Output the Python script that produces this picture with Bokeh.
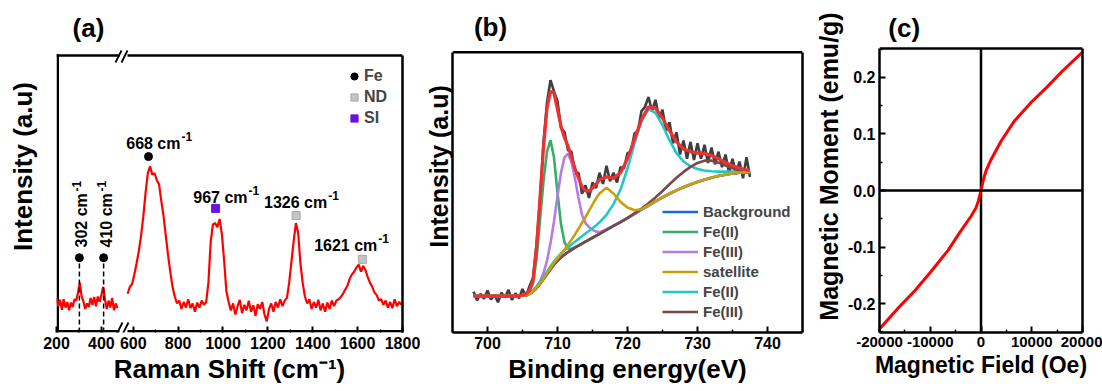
from bokeh.plotting import figure
from bokeh.layouts import row
from bokeh.models import Range1d, FixedTicker, LinearAxis, Label, Legend, LegendItem, Span
from bokeh.embed import file_html
from bokeh.resources import INLINE

FONT = "Liberation Sans"

# ---------------- (a) Raman spectrum ----------------
raman_left_x = [200 + 8 * i for i in range(35)]
raman_left_y = [12.5, 9.5, 11.8, 8.2, 12.0, 9.0, 11.0, 8.0, 10.8, 9.2,
                12.0, 11.5, 14.5, 18.0, 13.0, 11.2, 8.5, 10.5, 9.2, 12.5,
                10.0, 12.8, 9.5, 13.0, 11.0, 13.5, 16.5, 12.0, 8.5, 11.5,
                9.0, 12.5, 8.0, 10.5, 8.8]
raman_right_x = [575 + 10 * i for i in range(123)]
raman_right_y = [14.0, 16.5, 17.5, 21.0, 25.0, 29.5, 35.0, 42.0, 50.5, 57.5,
                 60.0, 57.0, 57.5, 55.0, 53.5, 47.5, 42.0, 35.0, 28.0, 22.0,
                 16.5, 13.0, 10.5, 11.5, 8.5, 11.0, 9.0, 12.0, 8.8, 10.5,
                 7.5, 10.8, 9.0, 11.5, 10.0, 11.0, 18.0, 32.5, 39.0, 39.5,
                 38.0, 41.0, 35.5, 26.0, 15.0, 11.0, 8.0, 10.5, 6.5, 9.5,
                 11.8, 7.0, 10.0, 8.0, 11.5, 7.5, 9.8, 6.0, 10.2, 8.5,
                 11.0, 6.5, 4.0, 8.5, 10.5, 7.5, 11.0, 9.0, 12.0, 9.5,
                 11.5, 12.5, 18.0, 25.5, 33.0, 39.5, 36.0, 25.0, 18.0, 13.0,
                 10.5, 12.0, 8.5, 11.0, 9.0, 11.8, 8.0, 10.5, 7.5, 10.8,
                 8.5, 11.5, 9.5, 11.5, 12.0, 12.8, 14.0, 15.5, 17.0, 19.5,
                 21.0, 22.0, 23.5, 24.5, 22.0, 24.0, 22.5, 20.0, 18.0, 16.5,
                 14.5, 13.5, 11.5, 12.0, 10.0, 11.5, 9.0, 11.0, 8.8, 12.0,
                 9.5, 11.0, 10.0]
peak_x = [302, 410, 668, 967, 1326, 1621]
peak_txt = ["302 cm", "410 cm", "668 cm", "967 cm", "1326 cm", "1621 cm"]
peak_kind = ["Fe", "Fe", "Fe", "SI", "ND", "ND"]
peak_mark_y = [27, 27, 63.5, 44.8, 42.2, 26.4]
raman_ticks = [200, 400, 600, 800, 1000, 1200, 1400, 1600, 1800]
raman_minor = [300, 700, 900, 1100, 1300, 1500, 1700]
BRK_LO, BRK_HI = 500, 558
RAMAN_YMAX = 100

# ---------------- (b) XPS Fe 2p ----------------
xps_x = [698, 700, 702, 704, 705, 705.5, 706, 706.5, 707, 707.5, 708, 708.5, 709,
         709.5, 710, 710.5, 711, 711.5, 712, 712.5, 713, 713.5, 714, 714.5, 715,
         715.5, 716, 717, 718, 719, 720, 721, 722, 723, 724, 725, 726, 727, 728,
         729, 730, 731, 732, 733, 734, 735, 736, 737, 737.5]
xps_bg = [13, 13, 13, 13, 13.1, 13.3, 13.8, 14.6, 15.8, 17.3, 19.0, 20.8, 22.6,
          24.2, 25.6, 26.8, 27.8, 28.7, 29.5, 30.3, 31.0, 31.7, 32.4, 33.1, 33.8,
          34.5, 35.2, 36.6, 38.0, 39.4, 40.8, 42.3, 43.8, 45.3, 46.8, 48.2, 49.5,
          50.7, 51.8, 52.8, 53.7, 54.5, 55.2, 55.8, 56.3, 56.7, 57.0, 57.2, 57.3]
xps_fe2_a = [13, 13, 13, 13, 13.2, 13.6, 14.8, 17.5, 26.0, 40.0, 54.0, 64.5, 68.6,
             62.4, 49.9, 38.6, 32.2, 30.0, 29.8, 30.4, 31.0, 31.7, 32.4, 33.1, 33.8,
             34.5, 35.2, 36.6, 38.0, 39.4, 40.8, 42.3, 43.8, 45.3, 46.8, 48.2, 49.5,
             50.7, 51.8, 52.8, 53.7, 54.5, 55.2, 55.8, 56.3, 56.7, 57.0, 57.2, 57.3]
xps_fe3_a = [13, 13, 13, 13, 13.1, 13.3, 13.8, 14.7, 16.1, 18.2, 21.2, 25.6, 31.8,
             39.7, 48.7, 57.0, 62.5, 63.8, 60.8, 54.9, 48.0, 42.0, 39.0, 37.6, 36.6,
             36.0, 35.8, 36.9, 38.1, 39.4, 40.8, 42.3, 43.8, 45.3, 46.8, 48.2, 49.5,
             50.7, 51.8, 52.8, 53.7, 54.5, 55.2, 55.8, 56.3, 56.7, 57.0, 57.2, 57.3]
xps_sat = [13, 13, 13, 13, 13.1, 13.3, 13.8, 14.6, 15.9, 17.4, 19.2, 21.1, 23.0,
           24.8, 26.4, 28.0, 29.6, 31.3, 33.1, 35.0, 37.0, 39.1, 41.2, 43.4, 45.6,
           47.8, 49.6, 51.6, 49.6, 46.6, 44.6, 43.6, 44.0, 45.4, 46.9, 48.3, 49.6,
           50.8, 51.9, 52.9, 53.8, 54.6, 55.3, 55.9, 56.4, 56.8, 57.1, 57.3, 57.4]
xps_fe2_b = [13, 13, 13, 13, 13.2, 13.5, 14.1, 15.0, 16.4, 18.0, 19.8, 21.7, 23.6,
             25.3, 26.8, 28.1, 29.3, 30.4, 31.4, 32.4, 33.4, 34.3, 35.3, 36.2, 37.2,
             38.2, 39.3, 42.0, 45.8, 51.0, 58.5, 67.5, 75.5, 79.6, 78.4, 74.0, 68.5,
             64.0, 61.0, 59.3, 58.3, 57.8, 57.5, 57.4, 57.4, 57.4, 57.4, 57.4, 57.4]
xps_fe3_b = [13, 13, 13, 13, 13.1, 13.3, 13.8, 14.6, 15.8, 17.3, 19.0, 20.8, 22.6,
             24.2, 25.6, 26.8, 27.8, 28.7, 29.5, 30.3, 31.0, 31.7, 32.4, 33.1, 33.8,
             34.5, 35.2, 36.6, 38.0, 39.4, 40.9, 42.5, 44.2, 46.1, 48.2, 50.5, 52.9,
             55.2, 57.3, 59.1, 60.5, 61.3, 61.3, 60.6, 59.6, 58.6, 57.9, 57.5, 57.4]
xps_env = [13, 13, 13, 13, 13.3, 13.8, 15.0, 18.5, 30.0, 48.0, 66.0, 80.0, 86.0,
           85.5, 79.5, 73.5, 69.5, 66.5, 62.5, 58.5, 55.0, 52.0, 50.5, 50.5, 51.5,
           53.0, 54.5, 55.5, 55.0, 57.0, 62.0, 69.0, 76.0, 80.5, 80.0, 76.5, 72.0,
           68.0, 65.5, 64.5, 64.0, 63.8, 63.2, 62.0, 60.7, 59.5, 58.7, 58.0, 57.8]
xps_raw_x = [698 + 0.5 * i for i in range(80)]
xps_raw_y = [14.5, 11.5, 13.8, 12.0, 15.0, 11.8, 13.5, 10.8, 14.2, 12.5, 15.2, 11.6,
             14.0, 12.2, 15.5, 12.8,
             16.5, 19.5, 31.5, 47.0, 68.0, 82.0, 90.0, 86.0, 82.5, 73.0, 71.5, 65.0,
             64.5, 56.5, 57.0, 49.5, 52.5, 48.0, 53.5, 51.5,
             57.0, 53.0, 59.5, 54.0, 57.0, 53.5, 59.0, 58.5, 64.0, 64.5, 71.0, 72.0,
             79.0, 80.5, 84.0, 79.0, 83.0, 76.5, 79.5, 72.0,
             75.0, 67.5, 71.5, 63.5, 68.5, 62.0, 68.0, 61.5, 67.5, 62.0, 67.0, 60.5,
             66.0, 60.0, 64.5, 59.0, 63.5, 57.0, 62.0, 56.5,
             61.0, 55.0, 62.5, 55.5]
xps_ticks = [700, 710, 720, 730, 740]
xps_minor = [695, 705, 715, 725, 735, 745]
XPS_YMAX = 100

# ---------------- (c) M-H loop ----------------
mh_h = [-20000, -16000, -13000, -10000, -6500, -4000, -2000, -1000, -500, -200, 0,
        200, 500, 1000, 2000, 4000, 6500, 10000, 13000, 16000, 20000]
mh_m = [-0.245, -0.205, -0.177, -0.145, -0.106, -0.072, -0.046, -0.031, -0.018, -0.007, 0.0,
        0.008, 0.020, 0.035, 0.055, 0.088, 0.122, 0.157, 0.183, 0.211, 0.245]
mh_xticks = [-20000, -10000, 0, 10000, 20000]
mh_yticks = [-0.2, -0.1, 0.0, 0.1, 0.2]
MH_LIM = 0.2513


def brk(v):
    return v if v <= BRK_LO else v - (BRK_HI - BRK_LO)


def new_fig(w, bl, br, bb, xr, yr):
    # the frame reaches the top of the canvas; the visible box top is drawn inside it
    p = figure(width=w, height=391, x_range=xr, y_range=yr, output_backend="svg",
               toolbar_location=None, min_border_left=bl, min_border_right=br,
               min_border_top=0, min_border_bottom=bb, title=None)
    p.grid.visible = False
    p.outline_line_color = None
    p.background_fill_color = "white"
    p.border_fill_color = "white"
    return p


def style_axis(ax, ticks=None, minor=None, overrides=None, show_labels=True,
               label=None, label_standoff=4, line=True, label_size=26, tick_size=16):
    ax.axis_line_width = 2.5
    ax.axis_line_color = "black" if line else None
    ax.ticker = FixedTicker(ticks=ticks or [], minor_ticks=minor or [])
    ax.major_tick_in = 6
    ax.major_tick_out = 0
    ax.minor_tick_in = 3
    ax.minor_tick_out = 0
    ax.major_tick_line_width = 2
    ax.minor_tick_line_width = 1.5
    ax.major_tick_line_color = "black"
    ax.minor_tick_line_color = "black"
    ax.major_label_text_font = FONT
    ax.major_label_text_font_style = "bold"
    ax.major_label_text_font_size = f"{tick_size}px" if show_labels else "0px"
    ax.major_label_text_color = "black"
    ax.major_label_standoff = 4 if show_labels else 0
    if overrides:
        ax.major_label_overrides = overrides
    if label:
        ax.axis_label = label
        ax.axis_label_text_font = FONT
        ax.axis_label_text_font_size = f"{label_size}px"
        ax.axis_label_text_font_style = "bold"
        ax.axis_label_text_color = "black"
        ax.axis_label_standoff = label_standoff


def lab(p, x, y, text, size, angle=0, align="center", baseline="middle", xo=0):
    p.add_layout(Label(x=x, y=y, text=text, text_font=FONT, text_font_size=f"{size}px",
                       text_font_style="bold", text_color="black", text_align=align,
                       text_baseline=baseline, angle=angle, angle_units="deg",
                       x_offset=xo, level="overlay"))


# ================= Panel (a) =================
ax_ = lambda px: 200 + (px - 56) * (brk(1800) - 200) / 346.0
ay_ = lambda py: (332 - py) * RAMAN_YMAX / 277.0

pa = new_fig(420, 56, 18, 59, Range1d(200, brk(1800)), Range1d(0, ay_(0)))
style_axis(pa.xaxis[0], [brk(t) for t in raman_ticks], [brk(t) for t in raman_minor],
           {brk(t): str(t) for t in raman_ticks}, label="Raman Shift (cm\u207b\u00b9)",
           label_standoff=2, line=False)
# left axis: line drawn as a glyph below; bounds only used to centre its title like the reference
style_axis(pa.yaxis[0], show_labels=False, label="Intensity (a.u)", label_standoff=19, line=False)
pa.yaxis[0].bounds = (2 * ay_(176) - RAMAN_YMAX, RAMAN_YMAX)
ra = LinearAxis(bounds=(0, RAMAN_YMAX))
style_axis(ra, show_labels=False)
pa.add_layout(ra, "right")

# box lines (top/bottom broken at the axis break, left edge) and "//" marks
gap_l, gap_r = ax_(119), ax_(127)
for yl in (ay_(330.75), RAMAN_YMAX):
    pa.segment(x0=[200, gap_r], y0=[yl, yl], x1=[gap_l, brk(1800)], y1=[yl, yl],
               line_color="black", line_width=2.5)
pa.segment(x0=[ax_(57.25)], y0=[0], x1=[ax_(57.25)], y1=[ay_(53.75)],
           line_color="black", line_width=2.5)
pa.segment(x0=[ax_(116), ax_(122), ax_(115), ax_(121)],
           y0=[ay_(334), ay_(334), ay_(62), ay_(62)],
           x1=[ax_(122), ax_(128), ax_(121), ax_(127)],
           y1=[ay_(322), ay_(322), ay_(50), ay_(50)],
           line_color="black", line_width=1.8)

pa.line([brk(v) for v in raman_left_x], raman_left_y, line_color="#ff0000", line_width=2.2)
pa.line([brk(v) for v in raman_right_x], raman_right_y, line_color="#ff0000", line_width=2.2)

for i, k in enumerate(peak_kind):
    if peak_x[i] < BRK_LO:
        pa.segment(x0=[brk(peak_x[i])], y0=[0], x1=[brk(peak_x[i])], y1=[peak_mark_y[i] - 1.8],
                   line_color="black", line_width=1.5, line_dash="5 3")

def sel(kind):
    xs = [brk(peak_x[i]) for i in range(len(peak_x)) if peak_kind[i] == kind]
    ys = [peak_mark_y[i] for i in range(len(peak_x)) if peak_kind[i] == kind]
    return xs, ys

fx, fy = sel("Fe")
r_fe = pa.scatter(fx, fy, marker="circle", size=8, fill_color="black", line_color="black")
nx, ny = sel("ND")
r_nd = pa.scatter(nx, ny, marker="square", size=8, fill_color="#c4c4c4", line_color="#a9a9a9")
sx, sy = sel("SI")
r_si = pa.scatter(sx, sy, marker="square", size=8, fill_color="#6a12e0", line_color="#6a12e0")

leg_a = Legend(items=[LegendItem(label="Fe", renderers=[r_fe]),
                      LegendItem(label="ND", renderers=[r_nd]),
                      LegendItem(label="SI", renderers=[r_si])],
               location=(289, 204), padding=0, margin=0, spacing=1,
               glyph_width=18, glyph_height=20, label_height=20, label_standoff=1,
               label_text_font=FONT, label_text_font_style="bold", label_text_font_size="16px",
               border_line_color=None, background_fill_alpha=0)
pa.add_layout(leg_a)

# peak labels: rotated for 302/410, horizontal for others
lab_base_py = [247, 247, 143, 197, 202, 245]
lab_xoff = [2, 3, 32, 32, 31, 15]
for i in range(len(peak_x)):
    xd = brk(peak_x[i])
    if i < 2:
        lab(pa, xd, ay_(lab_base_py[i]), peak_txt[i], 16, angle=90, align="left", xo=lab_xoff[i])
        lab(pa, xd, ay_(lab_base_py[i] - 56), "-1", 12, angle=90, align="left", xo=lab_xoff[i] - 5)
    else:
        lab(pa, xd, ay_(lab_base_py[i]), peak_txt[i], 16, align="right", baseline="alphabetic", xo=lab_xoff[i])
        lab(pa, xd, ay_(lab_base_py[i] - 7), "-1", 12, align="left", baseline="alphabetic", xo=lab_xoff[i] + 1)
lab(pa, ax_(88), ay_(27), "(a)", 26)

# ================= Panel (b) =================
bx_ = lambda px: 695 + (px - 452) / 7.0
by_ = lambda py: (334 - py) * XPS_YMAX / 282.0

pb = new_fig(391, 32, 9, 57, Range1d(695, 745), Range1d(0, by_(0)))
style_axis(pb.xaxis[0], xps_ticks, xps_minor, label="Binding energy(eV)", label_standoff=2)
style_axis(pb.yaxis[0], show_labels=False, label="Intensity (a.u)", label_standoff=0, label_size=25)
pb.yaxis[0].bounds = (0, XPS_YMAX)
rb = LinearAxis(bounds=(0, XPS_YMAX))
style_axis(rb, show_labels=False)
pb.add_layout(rb, "right")
pb.add_layout(Span(location=XPS_YMAX, dimension="width", line_color="black", line_width=2.5))

pb.line(xps_raw_x, xps_raw_y, line_color="#3f3f3f", line_width=2.6)
r_bg = pb.line(xps_x, xps_bg, line_color="#1f66d6", line_width=2.6)
r_f2a = pb.line(xps_x, xps_fe2_a, line_color="#37ad6a", line_width=2.6)
r_f3a = pb.line(xps_x, xps_fe3_a, line_color="#b57be6", line_width=2.6)
r_f2b = pb.line(xps_x, xps_fe2_b, line_color="#22c7c9", line_width=2.6)
r_f3b = pb.line(xps_x, xps_fe3_b, line_color="#7b4848", line_width=2.6)
r_sat = pb.line(xps_x, xps_sat, line_color="#c9a00c", line_width=2.6)
pb.line(xps_x, xps_env, line_color="#f03030", line_width=3.2)

leg_b = Legend(items=[LegendItem(label="Background", renderers=[r_bg]),
                      LegendItem(label="Fe(II)", renderers=[r_f2a]),
                      LegendItem(label="Fe(III)", renderers=[r_f3a]),
                      LegendItem(label="satellite", renderers=[r_sat]),
                      LegendItem(label="Fe(II)", renderers=[r_f2b]),
                      LegendItem(label="Fe(III)", renderers=[r_f3b])],
               location=(210, 11), padding=0, margin=0, spacing=1,
               glyph_width=36, glyph_height=19, label_height=19, label_standoff=5,
               label_text_font=FONT, label_text_font_style="bold", label_text_font_size="15px",
               border_line_color=None, background_fill_alpha=0)
pb.add_layout(leg_b)
lab(pb, bx_(490), by_(27), "(b)", 26)

# ================= Panel (c) =================
cx_ = lambda px: -20000 + (px - 877) * 40000.0 / 205.0
cy_ = lambda py: MH_LIM - (py - 48) * (2 * MH_LIM) / 284.0

pc = new_fig(291, 66, 20, 59, Range1d(-20000, 20000), Range1d(-MH_LIM, cy_(0)))
style_axis(pc.xaxis[0], mh_xticks, [-15000, -5000, 5000, 15000],
           {t: str(t) for t in mh_xticks}, label="Magnetic Field (Oe)", label_standoff=2,
           label_size=23, tick_size=15)
style_axis(pc.yaxis[0], mh_yticks, [-0.25, -0.15, -0.05, 0.05, 0.15, 0.25],
           {t: f"{t:.1f}" for t in mh_yticks}, label="Magnetic Moment (emu/g)", label_standoff=2,
           label_size=25)
pc.yaxis[0].bounds = (-MH_LIM, MH_LIM)
rc = LinearAxis(bounds=(-MH_LIM, MH_LIM))
style_axis(rc, show_labels=False)
pc.add_layout(rc, "right")
pc.add_layout(Span(location=MH_LIM, dimension="width", line_color="black", line_width=2.5))
pc.add_layout(Span(location=0, dimension="width", line_color="black", line_width=2.5))
pc.segment(x0=[0], y0=[-MH_LIM], x1=[0], y1=[MH_LIM], line_color="black", line_width=2.5)
pc.line(mh_h, mh_m, line_color="#ff0000", line_width=3)
lab(pc, cx_(902), cy_(27), "(c)", 26)

layout = row(pa, pb, pc)
open("out.html", "w").write(file_html(layout, INLINE))
